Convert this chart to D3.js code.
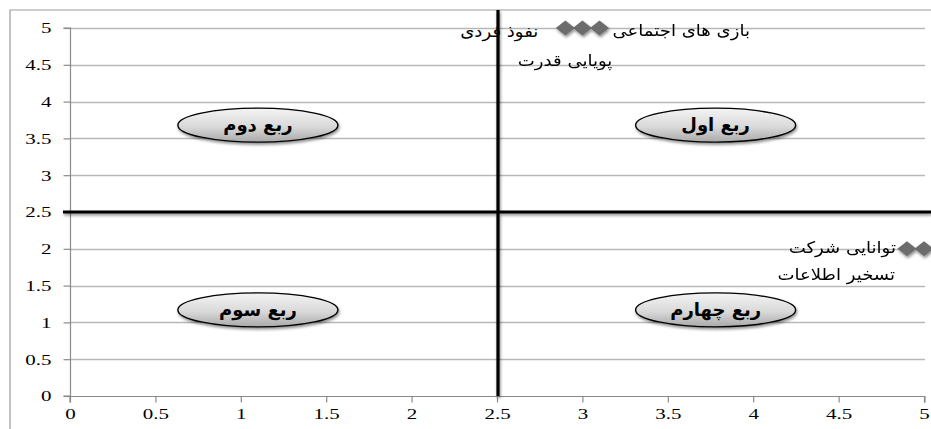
<!DOCTYPE html>
<html>
<head>
<meta charset="utf-8">
<script src="https://cdn.jsdelivr.net/npm/d3@7"></script>
<style>
  html, body { margin: 0; padding: 0; background: #fff; }
  svg { display: block; }
</style>
</head>
<body>
<svg id="chart" width="931" height="429"></svg>
<script>
// Axis ticks
const xTicks = [0, 0.5, 1, 1.5, 2, 2.5, 3, 3.5, 4, 4.5, 5];
const yTicks = [0, 0.5, 1, 1.5, 2, 2.5, 3, 3.5, 4, 4.5, 5];

// Scatter points (diamond markers) and their labels
const pointNames = ["نفوذ فردی", "پویایی قدرت", "بازی های اجتماعی", "توانایی شرکت", "تسخیر اطلاعات"];
const pointX = [2.9, 3.0, 3.1, 4.9, 5.0];
const pointY = [5, 5, 5, 2, 2];
const labelSide = ["farLeft", "below", "right", "left", "belowLeft"];

// Quadrant dividers and quadrant captions
const dividerX = 2.5;
const dividerY = 2.5;
const quadrantNames = ["ربع اول", "ربع دوم", "ربع سوم", "ربع چهارم"];
const quadrantX = [3.78, 1.1, 1.1, 3.78];
const quadrantY = [3.68, 3.68, 1.17, 1.17];

const W = 931, H = 429;
const margin = { left: 70, right: 7, top: 28, bottom: 33 };
const serif = "'Liberation Serif', 'Times New Roman', serif";
const arabicFont = "'DejaVu Sans', sans-serif";
const tickStretch = 1.4;   // tick numerals are drawn wide
const labelStretch = 1.13; // point labels are drawn slightly wide

// label offsets (px) from the marker centre, by placement
const labelOffset = {
  right:     { dx: 13,  dy: 2,  anchor: "start" },
  left:      { dx: -11, dy: -1, anchor: "end" },
  farLeft:   { dx: -27, dy: 3,  anchor: "end" },
  below:     { dx: 30,  dy: 32, anchor: "end" },
  belowLeft: { dx: -29, dy: 26, anchor: "end" }
};

const svg = d3.select("#chart");

const x = d3.scaleLinear().domain([0, 5]).range([margin.left, W - margin.right]);
const y = d3.scaleLinear().domain([0, 5]).range([H - margin.bottom, margin.top]);

const defs = svg.append("defs");

// soft drop shadow used by markers, dividers and quadrant ellipses
const shadow = defs.append("filter").attr("id", "shadow")
  .attr("x", "-30%").attr("y", "-30%").attr("width", "160%").attr("height", "180%");
shadow.append("feGaussianBlur").attr("in", "SourceAlpha").attr("stdDeviation", 1.6).attr("result", "b");
shadow.append("feOffset").attr("in", "b").attr("dx", 0.5).attr("dy", 2).attr("result", "o");
shadow.append("feComponentTransfer").attr("in", "o").attr("result", "s")
  .append("feFuncA").attr("type", "linear").attr("slope", 0.45);
const sm = shadow.append("feMerge");
sm.append("feMergeNode").attr("in", "s");
sm.append("feMergeNode").attr("in", "SourceGraphic");

const grad = defs.append("linearGradient").attr("id", "ellGrad")
  .attr("x1", 0).attr("y1", 0).attr("x2", 0).attr("y2", 1);
grad.append("stop").attr("offset", "0%").attr("stop-color", "#f4f4f4");
grad.append("stop").attr("offset", "55%").attr("stop-color", "#d9d9d9");
grad.append("stop").attr("offset", "100%").attr("stop-color", "#a9a9a9");

// chart frame
svg.append("path")
  .attr("d", `M10,${H} L10,10 L${W},10`)
  .attr("fill", "none").attr("stroke", "#9c9c9c").attr("stroke-width", 1.2);

// horizontal gridlines
svg.append("g").selectAll("line")
  .data(yTicks.filter(d => d > 0))
  .join("line")
  .attr("x1", x(0)).attr("x2", x(5) + 1)
  .attr("y1", d => Math.round(y(d)) + 0.5).attr("y2", d => Math.round(y(d)) + 0.5)
  .attr("stroke", "#b8b8b8").attr("stroke-width", 1.3);

// y axis
const yAxis = svg.append("g")
  .attr("transform", `translate(${Math.round(x(0)) + 0.5},0)`)
  .call(d3.axisLeft(y).tickValues(yTicks).tickFormat(d3.format("")).tickSize(7).tickPadding(12));
// x axis
const xAxis = svg.append("g")
  .attr("transform", `translate(0,${Math.round(y(0)) + 0.5})`)
  .call(d3.axisBottom(x).tickValues(xTicks).tickFormat(d3.format("")).tickSize(6).tickPadding(6));

[yAxis, xAxis].forEach(g => {
  g.attr("font-family", serif).attr("font-size", 15);
  g.select(".domain").attr("stroke", "#8a8a8a").attr("stroke-width", 1.2);
  g.selectAll(".tick line").attr("stroke", "#8a8a8a").attr("stroke-width", 1.2);
  g.selectAll(".tick text").attr("fill", "#000").each(function () {
    const t = d3.select(this);
    const tx = +t.attr("x") || 0;
    t.attr("x", 0).attr("transform", `translate(${tx},0) scale(${tickStretch},1)`);
  });
});
xAxis.select(".domain").attr("d", `M${x(0)},6V0H${x(5) + 1}V6`);
yAxis.select(".domain").attr("d", `M-7,${y(5)}H0V${y(0)}H-7`);

// quadrant divider lines
const dividers = svg.append("g").attr("filter", "url(#shadow)");
dividers.append("line")
  .attr("x1", x(0) - 7).attr("x2", W)
  .attr("y1", y(dividerY)).attr("y2", y(dividerY))
  .attr("stroke", "#000").attr("stroke-width", 3.2);
dividers.append("line")
  .attr("x1", x(dividerX) + 1).attr("x2", x(dividerX) + 1)
  .attr("y1", 10).attr("y2", y(0))
  .attr("stroke", "#000").attr("stroke-width", 3.2);

// quadrant captions in shaded ellipses
const quads = svg.append("g").selectAll("g")
  .data(quadrantNames.map((n, i) => ({ name: n, x: quadrantX[i], y: quadrantY[i] })))
  .join("g")
  .attr("transform", d => `translate(${x(d.x)},${y(d.y)})`);
quads.append("ellipse")
  .attr("rx", 80).attr("ry", 17)
  .attr("fill", "url(#ellGrad)")
  .attr("stroke", "#000").attr("stroke-width", 1.4)
  .attr("filter", "url(#shadow)");
quads.append("text")
  .attr("font-family", arabicFont)
  .attr("font-size", 18)
  .attr("font-weight", "bold")
  .attr("text-anchor", "middle")
  .attr("dy", "0.35em")
  .text(d => d.name);

// diamond markers
const pts = pointNames.map((n, i) => ({ name: n, x: pointX[i], y: pointY[i], side: labelSide[i] }));
const diamond = "M0,-7.5 L9.5,0 L0,7.5 L-9.5,0 Z";
svg.append("g").attr("filter", "url(#shadow)")
  .selectAll("path")
  .data(pts)
  .join("path")
  .attr("d", diamond)
  .attr("transform", d => `translate(${x(d.x)},${y(d.y)})`)
  .attr("fill", "#6c6c6c");

// point labels
svg.append("g").selectAll("text")
  .data(pts)
  .join("text")
  .attr("font-family", arabicFont)
  .attr("font-size", 16)
  .attr("transform", d => `translate(${x(d.x) + labelOffset[d.side].dx},${y(d.y) + labelOffset[d.side].dy}) scale(${labelStretch},1)`)
  .attr("dy", "0.35em")
  .attr("text-anchor", d => labelOffset[d.side].anchor)
  .text(d => d.name);
</script>
</body>
</html>
